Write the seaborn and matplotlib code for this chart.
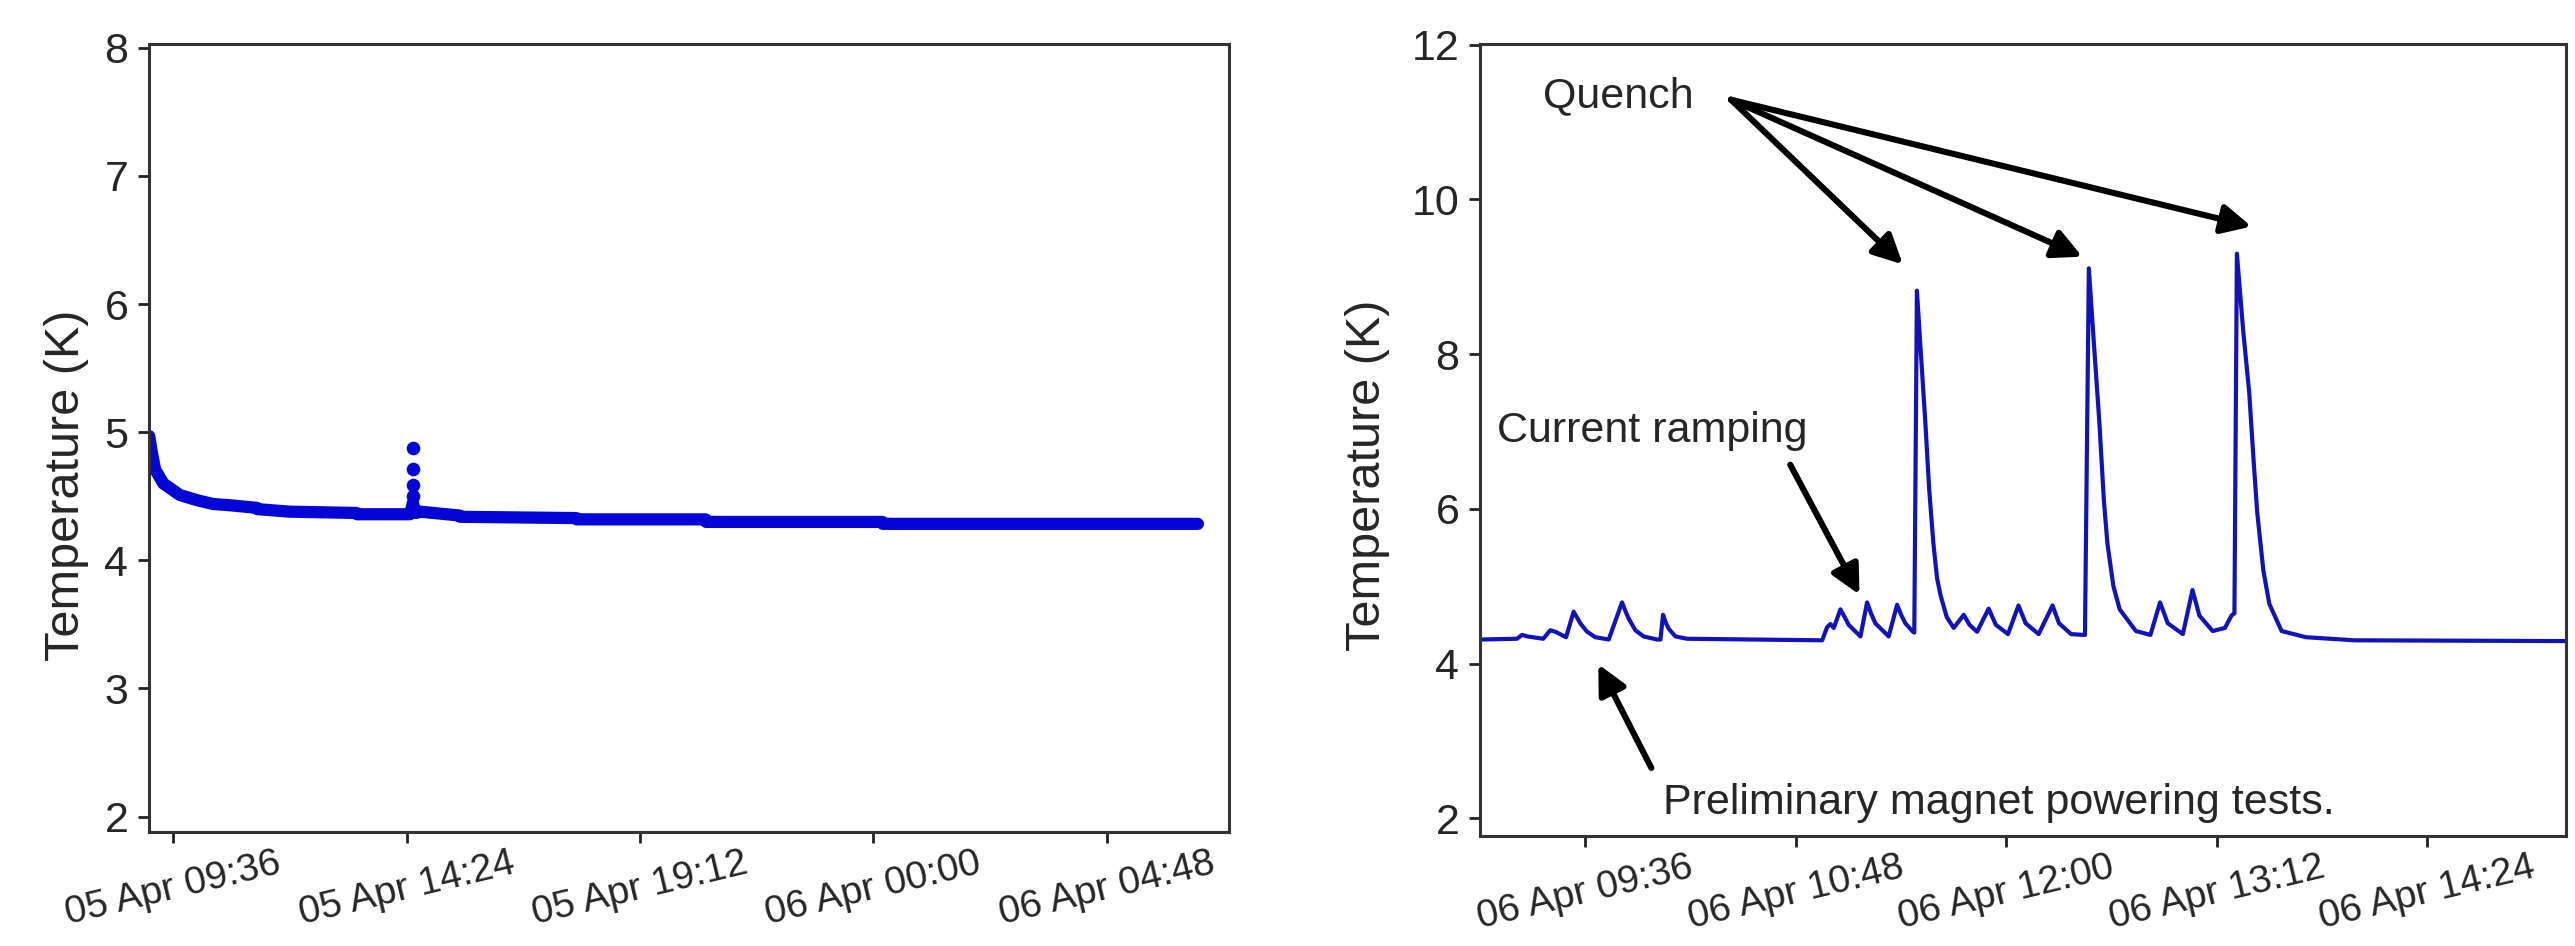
import pandas as pd
import numpy as np
import matplotlib
matplotlib.use("Agg")
import matplotlib.pyplot as plt
import matplotlib.dates as mdates
import seaborn as sns

sns.set_style("ticks")
plt.rcParams["font.family"] = ["Liberation Sans", "DejaVu Sans"]

# left panel: cool-down, hours after 05 Apr 00:00
cool_hours = [9.11, 9.16, 9.23, 9.40, 9.74, 10.09, 10.42, 10.77, 11.32, 11.33,
              12.00, 13.37, 13.38, 14.47, 14.50, 14.53, 14.56, 14.60, 14.68,
              15.49, 15.50, 17.89, 17.90, 20.55, 20.56, 24.18, 24.19, 30.67]
cool_temp = [4.97, 4.85, 4.71, 4.60, 4.51, 4.47, 4.44, 4.43, 4.41, 4.40,
             4.38, 4.37, 4.36, 4.36, 4.40, 4.45, 4.40, 4.37, 4.38,
             4.35, 4.34, 4.33, 4.32, 4.32, 4.30, 4.30, 4.285, 4.285]
spike_hours = [14.53, 14.53, 14.53, 14.53]
spike_temp = [4.88, 4.71, 4.59, 4.50]
left_ticks = [9.6, 14.4, 19.2, 24.0, 28.8]

# right panel: powering tests, hours after 06 Apr 00:00
test_hours = [9.00, 9.21, 9.24, 9.27, 9.36, 9.40, 9.43, 9.49, 9.533, 9.551,
              9.571, 9.61, 9.657, 9.733, 9.752, 9.809, 9.828, 9.847, 9.885,
              9.932, 10.009, 10.028, 10.043, 10.058, 10.075, 10.113, 10.18,
              10.95, 10.978, 10.997, 11.016, 11.054, 11.078, 11.101, 11.168,
              11.206, 11.228, 11.253, 11.329, 11.377, 11.40, 11.424, 11.468,
              11.475, 11.49, 11.51, 11.538, 11.56, 11.584, 11.605, 11.625,
              11.66, 11.70, 11.757, 11.79, 11.833, 11.899, 11.94, 12.009,
              12.069, 12.11, 12.184, 12.263, 12.30, 12.369, 12.438, 12.448,
              12.47, 12.50, 12.53, 12.556, 12.576, 12.61, 12.646, 12.738,
              12.821, 12.876, 12.92, 13.006, 13.061, 13.10, 13.176, 13.246,
              13.283, 13.30, 13.314, 13.35, 13.384, 13.41, 13.43, 13.465,
              13.499, 13.569, 13.707, 13.984, 15.20]
test_temp = [4.31, 4.32, 4.37, 4.35, 4.32, 4.43, 4.41, 4.34, 4.67, 4.60,
             4.52, 4.41, 4.34, 4.31, 4.43, 4.79, 4.68, 4.58, 4.43,
             4.35, 4.31, 4.31, 4.63, 4.53, 4.45, 4.35, 4.32,
             4.30, 4.47, 4.51, 4.46, 4.70, 4.60, 4.50, 4.35,
             4.79, 4.65, 4.52, 4.35, 4.76, 4.63, 4.52, 4.41,
             4.40, 8.82, 8.10, 7.12, 6.25, 5.55, 5.10, 4.88,
             4.60, 4.46, 4.63, 4.50, 4.41, 4.71, 4.50, 4.38,
             4.75, 4.52, 4.38, 4.75, 4.52, 4.38, 4.37, 4.37,
             9.11, 8.10, 7.12, 6.10, 5.55, 5.00, 4.70, 4.42,
             4.37, 4.79, 4.52, 4.38, 4.95, 4.62, 4.42, 4.46,
             4.62, 4.65, 9.30, 8.30, 7.51, 6.60, 5.95, 5.20,
             4.77, 4.42, 4.34, 4.30, 4.29]
right_ticks = [9.6, 10.8, 12.0, 13.2, 14.4]

day5 = pd.Timestamp("2018-04-05")
day6 = pd.Timestamp("2018-04-06")


def to_time(day, hours):
    return day + pd.to_timedelta(np.asarray(hours, dtype=float), unit="h")


cool_df = pd.DataFrame({"time": to_time(day5, cool_hours), "temp": cool_temp})
spike_df = pd.DataFrame({"time": to_time(day5, spike_hours), "temp": spike_temp})
test_df = pd.DataFrame({"time": to_time(day6, test_hours), "temp": test_temp})

fig = plt.figure(figsize=(12.875, 4.73), dpi=200)
ax1 = fig.add_axes([0.0579, 0.1205, 0.4194, 0.833])
ax2 = fig.add_axes([0.5748, 0.1163, 0.4217, 0.8372])

sns.lineplot(data=cool_df, x="time", y="temp", ax=ax1, color="#0505d8",
             linewidth=4.4, solid_capstyle="round", sort=False)
sns.scatterplot(data=spike_df, x="time", y="temp", ax=ax1, color="#0505d8",
                s=24, linewidth=0)
ax1.set_xlim(to_time(day5, [9.107])[0], to_time(day5, [31.31])[0])
ax1.set_ylim(1.88, 8.03)
ax1.set_xticks(to_time(day5, left_ticks))

sns.lineplot(data=test_df, x="time", y="temp", ax=ax2, color="#1212bc",
             linewidth=1.5, sort=False)
ax2.set_xlim(to_time(day6, [9.0])[0], to_time(day6, [15.19])[0])
ax2.set_ylim(1.77, 12.01)
ax2.set_yticks([2, 4, 6, 8, 10, 12])
ax2.set_xticks(to_time(day6, right_ticks))

for ax in (ax1, ax2):
    ax.xaxis.set_major_formatter(mdates.DateFormatter("%d %b %H:%M"))
    ax.set_xlabel("")
    ax.set_ylabel("Temperature (K)", fontsize=17.5)
    ax.tick_params(axis="y", labelsize=15.5, length=4, width=1, color="#222222")
    ax.tick_params(axis="x", labelsize=14, length=4, width=1, pad=1,
                   color="#222222")
    for lab in ax.get_xticklabels():
        lab.set_rotation(13.5)
        lab.set_ha("center")
    for sp in ax.spines.values():
        sp.set_color("#333333")
        sp.set_linewidth(1.1)

ax1.yaxis.set_label_coords(-0.056, 0.44)
ax2.yaxis.set_label_coords(-0.083, 0.455)

arrow_kw = dict(arrowstyle="-|>", color="black", lw=2.2, mutation_scale=22,
                shrinkA=0, shrinkB=0)


def pt(hours, temp):
    return (mdates.date2num(to_time(day6, [hours])[0]), temp)


ax2.text(*pt(9.36, 11.33), "Quench", fontsize=15.5, ha="left", va="center")
for tgt in [(11.41, 9.16), (12.433, 9.26), (13.397, 9.65)]:
    ax2.annotate("", xy=pt(*tgt), xytext=pt(10.43, 11.29), arrowprops=arrow_kw)

ax2.text(*pt(9.094, 7.0), "Current ramping", fontsize=15.5, ha="left", va="center")
ax2.annotate("", xy=pt(11.163, 4.89), xytext=pt(10.768, 6.57), arrowprops=arrow_kw)

ax2.text(*pt(10.044, 2.2), "Preliminary magnet powering tests.", fontsize=15.5,
         ha="left", va="center")
ax2.annotate("", xy=pt(9.674, 3.99), xytext=pt(9.976, 2.65), arrowprops=arrow_kw)

fig.savefig("out.png", dpi=200)
